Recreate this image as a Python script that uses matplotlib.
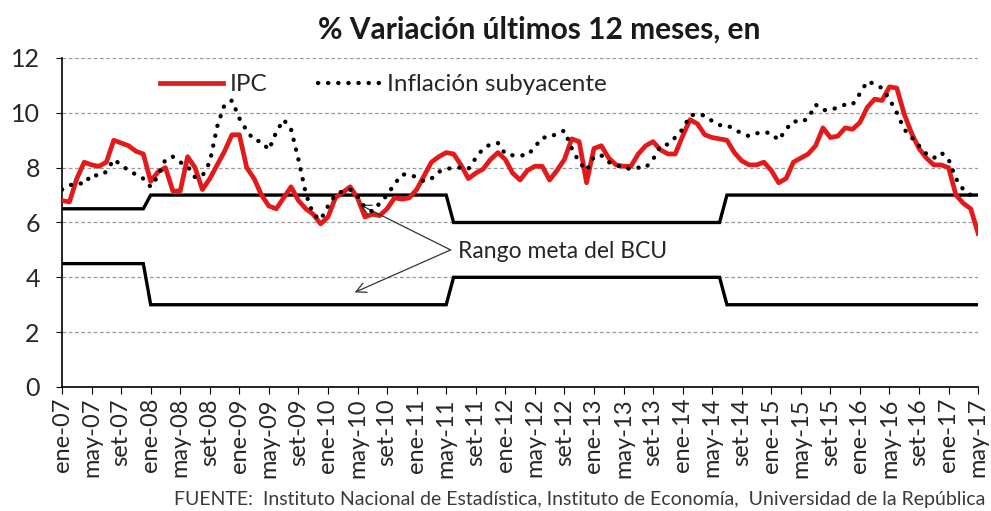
import numpy as np
import matplotlib.pyplot as plt
from matplotlib.lines import Line2D

# monthly series, ene-07 .. may-17
meses = ["ene", "feb", "mar", "abr", "may", "jun", "jul", "ago", "set", "oct", "nov", "dic"]
etiquetas = [f"{meses[i % 12]}-{7 + i // 12:02d}" for i in range(125)]

ipc = [
    6.8, 6.75, 7.6, 8.2, 8.1, 8.05, 8.2, 9.0, 8.9, 8.8, 8.6, 8.5,
    7.5, 7.85, 8.0, 7.15, 7.15, 8.4, 8.0, 7.2, 7.6, 8.1, 8.6, 9.2,
    9.2, 8.0, 7.6, 7.0, 6.6, 6.5, 6.9, 7.3, 6.8, 6.5, 6.3, 5.95,
    6.2, 6.9, 7.1, 7.3, 6.9, 6.2, 6.3, 6.25, 6.5, 6.9, 6.85, 6.9,
    7.2, 7.7, 8.2, 8.4, 8.55, 8.5, 8.1, 7.6, 7.8, 7.95, 8.3, 8.55,
    8.3, 7.8, 7.55, 7.9, 8.05, 8.05, 7.55, 7.9, 8.3, 9.05, 8.95, 7.45,
    8.7, 8.8, 8.35, 8.1, 8.05, 8.05, 8.5, 8.8, 8.95, 8.65, 8.5, 8.5,
    9.15, 9.75, 9.6, 9.2, 9.1, 9.05, 9.0, 8.55, 8.25, 8.1, 8.1, 8.2,
    7.9, 7.45, 7.6, 8.2, 8.35, 8.5, 8.8, 9.45, 9.1, 9.15, 9.45, 9.4,
    9.65, 10.2, 10.5, 10.45, 10.95, 10.9, 9.95, 9.25, 8.7, 8.35, 8.1, 8.1,
    8.0, 7.0, 6.7, 6.5, 5.6,
]

subyacente = [
    7.2, 7.35, 7.45, 7.4, 7.75, 7.7, 7.85, 8.3, 8.1, 7.9, 7.75, 7.6,
    7.3, 7.7, 8.3, 8.4, 8.2, 8.05, 7.65, 7.7, 8.2, 9.5, 10.3, 10.45,
    9.8, 9.35, 9.0, 8.95, 8.65, 9.3, 9.75, 9.4, 8.3, 7.05, 6.3, 6.1,
    6.6, 7.0, 7.15, 7.2, 6.95, 6.55, 6.4, 6.7, 7.0, 7.4, 7.75, 7.75,
    7.65, 7.5, 7.6, 7.85, 7.95, 8.0, 8.0, 7.95, 8.35, 8.7, 8.85, 8.9,
    8.5, 8.45, 8.45, 8.45, 8.75, 9.1, 9.1, 9.25, 9.35, 8.7, 8.2, 7.9,
    8.4, 8.45, 8.2, 8.1, 8.0, 7.95, 8.0, 8.0, 8.3, 8.8, 8.85, 9.1,
    9.4, 9.9, 9.95, 9.9, 9.7, 9.55, 9.55, 9.4, 9.25, 9.15, 9.25, 9.3,
    9.25, 9.0, 9.4, 9.7, 9.65, 9.8, 10.3, 10.1, 10.1, 10.2, 10.3, 10.3,
    10.7, 11.15, 11.05, 10.9, 10.5, 10.0, 9.4, 9.1, 8.8, 8.5, 8.35, 8.55,
    8.3, 7.6, 7.2, 7.0, 7.0,
]

# BCU target range (upper / lower bound)
rango_sup = [6.5] * 12 + [7] * 41 + [6] * 37 + [7] * 35
rango_inf = [4.5] * 12 + [3] * 41 + [4] * 37 + [3] * 35

x = np.arange(len(ipc))

plt.rcParams['font.family'] = ['Lato', 'DejaVu Sans']
fig = plt.figure(figsize=(9.91, 5.11), dpi=100)
ax = fig.add_axes([0.0626, 0.2427, 0.9244, 0.6438])

ax.plot(x, rango_sup, color='black', lw=2.4, solid_joinstyle='miter', zorder=2)
ax.plot(x, rango_inf, color='black', lw=2.4, solid_joinstyle='miter', zorder=2)
ax.plot(x, ipc, color='#E41A1A', lw=3.4, solid_joinstyle='round', zorder=3)
ax.plot(x, subyacente, color='black', lw=3.1, linestyle=(0, (0.05, 2.3)),
        dash_capstyle='round', zorder=4)

ax.set_xlim(0, 124)
ax.set_ylim(0, 12)
ax.set_yticks(range(0, 13, 2))
ax.set_xticks(x[::4])
ax.set_xticklabels(etiquetas[::4], rotation=90, fontsize=17, color='#262626')
ax.tick_params(axis='y', labelsize=18, labelcolor='#262626', direction='out',
               length=4, pad=12)
ax.tick_params(axis='x', direction='out', length=5, pad=3)
ax.grid(axis='y', color='#9A9A9A', lw=0.9, linestyle=(0, (3, 2)))
ax.set_axisbelow(True)
for s in ['top', 'right']:
    ax.spines[s].set_visible(False)
ax.spines['left'].set_linewidth(1.2)
ax.spines['bottom'].set_linewidth(1.2)

fig.text(0.544, 0.943, "% Variación últimos 12 meses, en", ha='center', va='center',
         fontsize=21.5, fontweight='bold', color='#1a1a1a')

handles = [Line2D([], [], color='#E41A1A', lw=3.4),
           Line2D([], [], color='black', lw=3.1, linestyle=(0, (0.05, 2.3)),
                  dash_capstyle='round')]
ax.legend(handles, ["IPC", "Inflación subyacente"], ncol=2, frameon=False,
          loc='center left', bbox_to_anchor=(0.107, 0.918), fontsize=17.5,
          handlelength=2.6, columnspacing=2.1, handletextpad=0.25,
          borderpad=0, borderaxespad=0, labelcolor='#262626')

# annotation with two arrows
for tip in [(40.3, 6.65), (39.6, 3.45)]:
    ax.annotate("", xy=tip, xytext=(52.6, 5.0),
                arrowprops=dict(arrowstyle='->', color='#333333', lw=0.9,
                                shrinkA=0, shrinkB=0, mutation_scale=18))
ax.text(53.6, 4.95, "Rango meta del BCU", fontsize=16.5, color='#262626',
        va='center', ha='left')

fig.text(0.994, 0.022, "FUENTE:  Instituto Nacional de Estadística, Instituto de Economía,  Universidad de la República",
         ha='right', va='center', fontsize=14, color='#3a3a3a')

fig.savefig("out.png", dpi=100)
